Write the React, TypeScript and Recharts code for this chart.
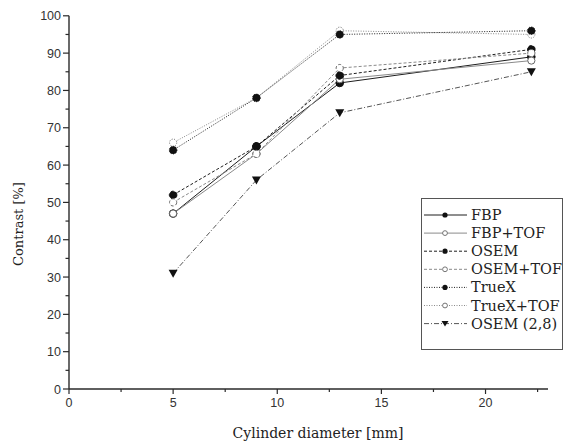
import React from 'react';
import { LineChart, Line, XAxis, YAxis } from 'recharts';

const diameters = [5, 9, 13, 22.2];
const fbp = [47, 65, 82, 89];
const fbpTof = [47, 63, 83, 88];
const osem = [52, 65, 84, 91];
const osemTof = [50, 63, 86, 90];
const trueX = [64, 78, 95, 96];
const trueXTof = [66, 78, 96, 95];
const osem28 = [31, 56, 74, 85];

const xTicks = [0, 2.5, 5, 7.5, 10, 12.5, 15, 17.5, 20, 22.5];
const yTicks = [0, 5, 10, 15, 20, 25, 30, 35, 40, 45, 50, 55, 60, 65, 70, 75, 80, 85, 90, 95, 100];

const data = diameters.map((d, i) => ({
  d,
  fbp: fbp[i],
  fbpTof: fbpTof[i],
  osem: osem[i],
  osemTof: osemTof[i],
  trueX: trueX[i],
  trueXTof: trueXTof[i],
  osem28: osem28[i],
}));

const AX = '#2a2a2a';
const DARK = '#1e1e1e';
const GREY = '#8a8a8a';
const SANS = '"Liberation Sans", Arial, sans-serif';
const SERIF = '"DejaVu Serif", serif';

const XTick = (props: any) => {
  const { x, y, payload } = props;
  const major = payload.value % 5 === 0;
  return (
    <g>
      <line x1={x} x2={x} y1={y} y2={y + (major ? 5 : 3)} stroke={AX} strokeWidth={1.2} />
      {major && (
        <text x={x} y={y + 18} textAnchor="middle" fontFamily={SANS} fontSize={12.5} fill="#333">
          {payload.value}
        </text>
      )}
    </g>
  );
};

const YTick = (props: any) => {
  const { x, y, payload } = props;
  const major = payload.value % 10 === 0;
  return (
    <g>
      <line x1={x} x2={x - (major ? 6 : 3.5)} y1={y} y2={y} stroke={AX} strokeWidth={1.2} />
      {major && (
        <text x={x - 8} y={y + 4.5} textAnchor="end" fontFamily={SANS} fontSize={12.5} fill="#333">
          {payload.value}
        </text>
      )}
    </g>
  );
};

const filledDot = { r: 3.8, fill: '#111', stroke: '#111', strokeWidth: 1 };
const openDot = { r: 3.6, fill: '#fff', stroke: '#666', strokeWidth: 1 };

const TriDot = (props: any) => {
  const { cx, cy } = props;
  if (cx == null || cy == null) return null;
  return <path d={`M${cx - 4.5},${cy - 3.5} L${cx + 4.5},${cy - 3.5} L${cx},${cy + 4.5} Z`} fill="#111" />;
};

const legendItems = [
  { name: 'FBP', stroke: DARK, dash: undefined, marker: 'filled' },
  { name: 'FBP+TOF', stroke: GREY, dash: undefined, marker: 'open' },
  { name: 'OSEM', stroke: DARK, dash: '3 2', marker: 'filled' },
  { name: 'OSEM+TOF', stroke: GREY, dash: '3 2', marker: 'open' },
  { name: 'TrueX', stroke: DARK, dash: '1 1.5', marker: 'filled' },
  { name: 'TrueX+TOF', stroke: GREY, dash: '1 1.5', marker: 'open' },
  { name: 'OSEM (2,8)', stroke: '#555', dash: '5 2 1 2', marker: 'tri' },
];

const XLabel = () => (
  <text x={318} y={438} textAnchor="middle" fontFamily={SERIF} fontSize={14} fill="#222">
    Cylinder diameter [mm]
  </text>
);

const YLabel = () => (
  <text
    x={0}
    y={0}
    transform="translate(23,224) rotate(-90)"
    textAnchor="middle"
    fontFamily={SERIF}
    fontSize={13}
    fill="#222"
  >
    Contrast [%]
  </text>
);

export default function App() {
  return (
    <div style={{ position: 'absolute', left: 0, top: 0, width: 569, height: 447, background: '#fff' }}>
      <LineChart
        width={569}
        height={447}
        data={data}
        margin={{ top: 15.8, right: 21, bottom: 8, left: 9 }}
      >
        <XAxis
          dataKey="d"
          type="number"
          domain={[0, 23]}
          ticks={xTicks}
          interval={0}
          height={50}
          tickSize={0}
          tickMargin={0}
          tick={<XTick />}
          axisLine={{ stroke: AX, strokeWidth: 1.4 }}
          tickLine={false}
          label={{ content: <XLabel /> }}
        />
        <YAxis
          type="number"
          domain={[0, 100]}
          ticks={yTicks}
          interval={0}
          width={60}
          tickSize={0}
          tickMargin={0}
          tick={<YTick />}
          axisLine={{ stroke: AX, strokeWidth: 1.4 }}
          tickLine={false}
          label={{ content: <YLabel /> }}
        />
        <Line dataKey="osem28" stroke="#555" strokeWidth={1} strokeDasharray="5 2 1 2" dot={<TriDot />} isAnimationActive={false} />
        <Line dataKey="fbp" stroke={DARK} strokeWidth={1} dot={filledDot} isAnimationActive={false} />
        <Line dataKey="fbpTof" stroke={GREY} strokeWidth={1} dot={openDot} isAnimationActive={false} />
        <Line dataKey="osem" stroke={DARK} strokeWidth={1} strokeDasharray="3 2" dot={filledDot} isAnimationActive={false} />
        <Line dataKey="osemTof" stroke={GREY} strokeWidth={1} strokeDasharray="3 2" dot={openDot} isAnimationActive={false} />
        <Line dataKey="trueXTof" stroke={GREY} strokeWidth={1} strokeDasharray="1 1.5" dot={openDot} isAnimationActive={false} />
        <Line dataKey="trueX" stroke={DARK} strokeWidth={1} strokeDasharray="1 1.5" dot={filledDot} isAnimationActive={false} />
      </LineChart>
      <div
        style={{
          position: 'absolute',
          left: 421,
          top: 198,
          width: 142,
          height: 152,
          border: '1px solid #555',
          boxSizing: 'border-box',
          background: '#fff',
        }}
      >
        <svg width={140} height={150} style={{ position: 'absolute', left: 0, top: 0 }}>
          {legendItems.map((it, i) => {
            const cy = 16 + i * 18.1;
            return (
              <g key={it.name}>
                <line x1={2} x2={45} y1={cy} y2={cy} stroke={it.stroke} strokeWidth={1} strokeDasharray={it.dash} />
                {it.marker === 'filled' && <circle cx={23} cy={cy} r={2.6} fill="#111" />}
                {it.marker === 'open' && <circle cx={23} cy={cy} r={2.4} fill="#fff" stroke="#666" strokeWidth={0.9} />}
                {it.marker === 'tri' && (
                  <path d={`M${19.5},${cy - 2.5} L${26.5},${cy - 2.5} L${23},${cy + 3} Z`} fill="#111" />
                )}
                <text x={49} y={cy + 5} fontFamily={SERIF} fontSize={14.5} fill="#222">
                  {it.name}
                </text>
              </g>
            );
          })}
        </svg>
      </div>
    </div>
  );
}
